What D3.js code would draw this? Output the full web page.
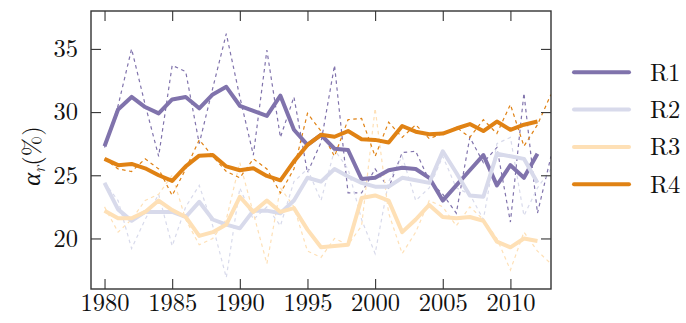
<!DOCTYPE html>
<html>
<head>
<meta charset="utf-8">
<script src="https://cdn.jsdelivr.net/npm/d3@7"></script>
<style>
  html, body { margin: 0; padding: 0; background: #fff; }
  svg { display: block; }
</style>
</head>
<body>
<svg id="chart" width="686" height="323"></svg>
<script>
// Regions and their annual alpha_r values (%)
const seriesNames = ["R1", "R2", "R3", "R4"];
const seriesColors = ["#8073ac", "#d8daeb", "#fee0b6", "#e08214"];

// Years covered by the yearly values and by the smoothed curves
const rawYears = d3.range(1980, 2014);
const smoothYears = d3.range(1980, 2013);

// Yearly values (thin dashed lines)
const r1Raw = [27.2, 30.5, 35.0, 30.6, 26.5, 33.7, 33.2, 27.5, 31.9, 36.2,
               31.2, 26.6, 34.9, 28.0, 31.2, 25.2, 27.6, 33.7, 23.6, 23.6,
               25.5, 24.0, 26.8, 26.9, 24.6, 23.5, 22.0, 28.0, 26.0, 27.2,
               21.3, 31.5, 22.0, 26.5];
const r2Raw = [24.4, 23.0, 19.2, 21.5, 23.5, 19.4, 22.5, 24.2, 21.0, 16.9,
               24.0, 21.5, 22.5, 21.0, 24.5, 25.5, 23.0, 27.0, 25.5, 21.5,
               18.8, 24.5, 26.5, 23.0, 24.0, 26.5, 24.0, 23.5, 21.5, 27.5,
               28.0, 21.8, 24.0, 25.5];
const r3Raw = [22.5, 20.5, 21.5, 23.0, 23.5, 25.0, 21.5, 19.5, 20.0, 21.5,
               26.0, 22.0, 18.0, 24.0, 22.5, 19.0, 18.5, 20.0, 19.5, 21.0,
               30.3, 22.0, 18.8, 20.5, 23.0, 22.5, 21.0, 22.5, 21.5, 20.0,
               17.5, 20.5, 19.0, 18.0];
const r4Raw = [26.3, 25.5, 25.3, 26.3, 25.5, 23.4, 25.5, 27.8, 26.5, 25.3,
               24.8, 26.3, 25.5, 23.6, 25.5, 29.9, 28.5, 26.5, 29.4, 29.5,
               26.5, 29.2, 28.0, 29.0, 27.9, 28.3, 28.8, 28.0, 29.4, 28.3,
               30.6, 27.3, 29.0, 31.4];

// Smoothed values (thick lines)
const r1Smooth = [27.3, 30.2, 31.2, 30.4, 29.9, 31.0, 31.2, 30.3, 31.4, 32.0,
                  30.5, 30.1, 29.7, 31.3, 28.6, 27.4, 28.2, 27.1, 27.0, 24.7,
                  24.8, 25.4, 25.6, 25.5, 24.8, 23.0, 24.2, 25.4, 26.6, 24.2,
                  25.8, 24.8, 26.7];
const r2Smooth = [24.4, 22.3, 21.4, 22.1, 22.1, 22.1, 21.7, 22.9, 21.5, 21.1,
                  20.8, 22.2, 22.2, 22.0, 23.0, 24.8, 24.5, 25.5, 24.9, 24.4,
                  24.1, 24.1, 24.8, 24.6, 24.4, 26.9, 25.2, 23.4, 23.3, 26.7,
                  26.5, 26.3, 24.4];
const r3Smooth = [22.2, 21.6, 21.6, 22.1, 23.0, 22.25, 21.7, 20.2, 20.5, 21.1,
                  23.3, 22.1, 23.0, 22.1, 22.4, 20.7, 19.3, 19.4, 19.5, 23.2,
                  23.4, 23.0, 20.5, 21.5, 22.65, 21.7, 21.6, 21.7, 21.4, 19.75,
                  19.3, 20.0, 19.8];
const r4Smooth = [26.3, 25.8, 25.9, 25.55, 25.0, 24.55, 25.7, 26.55, 26.6, 25.7,
                  25.4, 25.55, 24.95, 24.6, 26.1, 27.4, 28.2, 28.05, 28.5, 27.85,
                  27.8, 27.6, 28.9, 28.45, 28.25, 28.3, 28.7, 29.05, 28.5, 29.25,
                  28.6, 29.0, 29.25];

const xTicks = [1980, 1985, 1990, 1995, 2000, 2005, 2010];
const yTicks = [20, 25, 30, 35];

const rawSeries = [r1Raw, r2Raw, r3Raw, r4Raw];
const smoothSeries = [r1Smooth, r2Smooth, r3Smooth, r4Smooth];

const serif = "'Latin Modern Roman'";
const fontSize = 24.5;
const textColor = "#111";

const svg = d3.select("#chart");
const plot = { left: 91, right: 551, top: 11, bottom: 289 };

const x = d3.scaleLinear().domain([1979, 2013]).range([plot.left, plot.right]);
const y = d3.scaleLinear().domain([16, 38]).range([plot.bottom, plot.top]);

const line = (years) => d3.line()
  .x((d, i) => x(years[i]))
  .y(d => y(d));

svg.append("clipPath").attr("id", "plotclip")
  .append("rect")
  .attr("x", plot.left).attr("y", plot.top)
  .attr("width", plot.right - plot.left)
  .attr("height", plot.bottom - plot.top);

const lines = svg.append("g").attr("clip-path", "url(#plotclip)");

// thin dashed yearly series
rawSeries.forEach((vals, k) => {
  lines.append("path")
    .attr("d", line(rawYears)(vals))
    .attr("fill", "none")
    .attr("stroke", seriesColors[k])
    .attr("stroke-width", 1.2)
    .attr("stroke-dasharray", "3.5,3.5");
});

// thick smoothed series
smoothSeries.forEach((vals, k) => {
  lines.append("path")
    .attr("d", line(smoothYears)(vals))
    .attr("fill", "none")
    .attr("stroke", seriesColors[k])
    .attr("stroke-width", 4)
    .attr("stroke-linejoin", "round")
    .attr("stroke-linecap", "butt");
});

// axes: ticks pointing inward on all four sides
const tickLen = 10;
const axisColor = "#333";

const bottomAxis = d3.axisBottom(x).tickValues(xTicks).tickFormat(d3.format("d"))
  .tickSizeInner(-tickLen).tickSizeOuter(0).tickPadding(5);
const topAxis = d3.axisTop(x).tickValues(xTicks).tickFormat("")
  .tickSizeInner(-tickLen).tickSizeOuter(0);
const leftAxis = d3.axisLeft(y).tickValues(yTicks).tickFormat(d3.format("d"))
  .tickSizeInner(-tickLen).tickSizeOuter(0).tickPadding(13);
const rightAxis = d3.axisRight(y).tickValues(yTicks).tickFormat("")
  .tickSizeInner(-tickLen).tickSizeOuter(0);

function styleAxis(g) {
  g.select(".domain").remove();
  g.selectAll(".tick line").attr("stroke", axisColor).attr("stroke-width", 1.1);
  g.selectAll(".tick text")
    .style("font-family", serif)
    .style("font-size", fontSize + "px")
    .attr("fill", textColor);
}

svg.append("g").attr("transform", `translate(0,${plot.bottom})`).call(bottomAxis).call(styleAxis);
svg.append("g").attr("transform", `translate(0,${plot.top})`).call(topAxis).call(styleAxis);
svg.append("g").attr("transform", `translate(${plot.left},0)`).call(leftAxis).call(styleAxis);
svg.append("g").attr("transform", `translate(${plot.right},0)`).call(rightAxis).call(styleAxis);

// frame
svg.append("rect")
  .attr("x", plot.left).attr("y", plot.top)
  .attr("width", plot.right - plot.left)
  .attr("height", plot.bottom - plot.top)
  .attr("fill", "none")
  .attr("stroke", axisColor)
  .attr("stroke-width", 1.4);

// y-axis title: alpha_r (%)
const yTitle = svg.append("text")
  .attr("transform", `translate(40,${(plot.top + plot.bottom) / 2 + 6}) rotate(-90)`)
  .attr("text-anchor", "middle")
  .attr("fill", textColor)
  .style("font-family", serif)
  .style("font-size", fontSize + "px");
yTitle.append("tspan").style("font-style", "italic").text("α");
yTitle.append("tspan").style("font-style", "italic").style("font-size", "17px").attr("dy", 5).text("r");
yTitle.append("tspan").attr("dy", -5).text("(%)");

// legend
const legend = svg.append("g");
const legendY0 = 72.3, legendStep = 37.3;
seriesNames.forEach((name, k) => {
  const ly = legendY0 + k * legendStep;
  legend.append("line")
    .attr("x1", 574).attr("x2", 629)
    .attr("y1", ly).attr("y2", ly)
    .attr("stroke", seriesColors[k])
    .attr("stroke-width", 4)
    .attr("stroke-linecap", "round");
  legend.append("text")
    .attr("x", 650).attr("y", ly + 8.5)
    .attr("fill", textColor)
    .style("font-family", serif)
    .style("font-size", fontSize + "px")
    .text(name);
});
</script>
</body>
</html>
